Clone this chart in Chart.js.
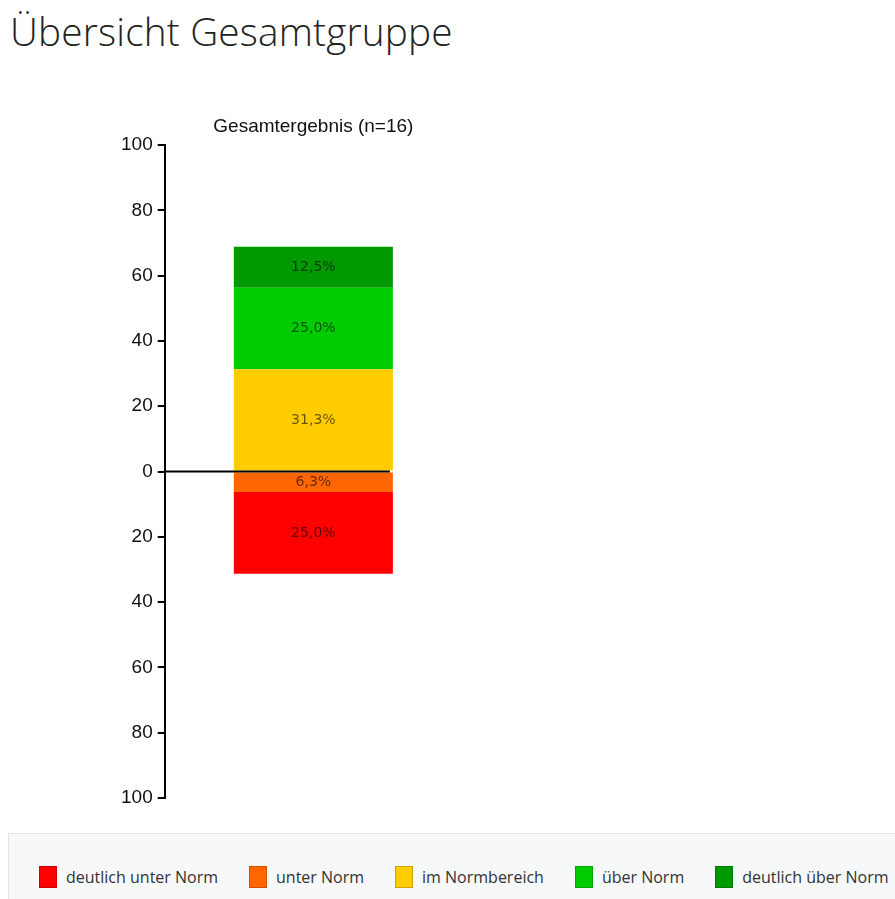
<!DOCTYPE html>
<html lang="de">
<head>
<meta charset="utf-8">
<title>Übersicht Gesamtgruppe</title>
<script src="https://cdn.jsdelivr.net/npm/chart.js@4.4.1/dist/chart.umd.min.js"></script>
<style>
  html, body { margin: 0; padding: 0; background: #fff; }
  body { width: 895px; height: 899px; position: relative; overflow: hidden; }
  h1 {
    position: absolute; left: 10px; top: 12px; margin: 0;
    font: 300 38.7px/39px 'Open Sans', sans-serif; color: #222; letter-spacing: 0.2px;
  }
  #chart-box { position: absolute; left: 0; top: 100px; width: 627px; height: 720px; }
  #legend {
    position: absolute; left: 8px; top: 833px; width: 900px; height: 80px;
    background: #f6f8fa; border: 1px solid #e2e5e8; box-sizing: border-box;
    display: flex; align-items: center; padding: 8px 0 0 30px;
    font: 16px 'Open Sans', sans-serif; color: #333;
  }
  .item { display: flex; align-items: center; margin-right: 31px; white-space: nowrap; }
  .swatch { width: 18px; height: 22px; margin-right: 9px; box-sizing: border-box; border: 1px solid rgba(0,0,0,0.2); }
</style>
</head>
<body>
<h1>Übersicht Gesamtgruppe</h1>
<div id="chart-box"><canvas id="chart"></canvas></div>
<div id="legend"></div>

<script>
/* ---------- Daten ---------- */
const categories = ['Gesamtergebnis'];
const sampleSize = 16;

// Legendenreihenfolge (von deutlich unter bis deutlich über Norm)
const levels = ['deutlich unter Norm', 'unter Norm', 'im Normbereich', 'über Norm', 'deutlich über Norm'];
const levelColors = ['#ff0000', '#ff6600', '#ffcc00', '#00cc00', '#009900'];
// Anteile in %, unter Norm negativ (unterhalb der Nulllinie)
const levelValues = [-25.0, -6.3, 31.3, 25.0, 12.5];

// Stapelreihenfolge von der Nulllinie nach außen
const stackOrder = [1, 0, 2, 3, 4];

const yMin = -100;
const yMax = 100;
const yStep = 20;

/* ---------- Legende ---------- */
const legendEl = document.getElementById('legend');
levels.forEach((name, i) => {
  const item = document.createElement('div');
  item.className = 'item';
  item.innerHTML = '<span class="swatch" style="background:' + levelColors[i] + '"></span>' + name;
  legendEl.appendChild(item);
});

/* ---------- Plugins ---------- */
const fmt = v => Math.abs(v).toFixed(1).replace('.', ',') + '%';

const segmentLabels = {
  id: 'segmentLabels',
  afterDatasetsDraw(chart) {
    const ctx = chart.ctx;
    ctx.save();
    ctx.font = "14px 'DejaVu Sans', sans-serif";
    ctx.fillStyle = 'rgba(0,0,0,0.6)';
    ctx.textAlign = 'center';
    ctx.textBaseline = 'middle';
    chart.data.datasets.forEach((ds, di) => {
      chart.getDatasetMeta(di).data.forEach((bar, j) => {
        const p = bar.getProps(['x', 'y', 'base'], true);
        ctx.fillText(fmt(ds.data[j]), p.x, (p.y + p.base) / 2);
      });
    });
    ctx.restore();
  }
};

const zeroLine = {
  id: 'zeroLine',
  afterDatasetsDraw(chart) {
    const y = chart.scales.y.getPixelForValue(0);
    const bar = chart.getDatasetMeta(0).data[0];
    const p = bar.getProps(['x', 'width'], true);
    const ctx = chart.ctx;
    ctx.save();
    ctx.strokeStyle = '#000';
    ctx.lineWidth = 2;
    ctx.beginPath();
    ctx.moveTo(chart.chartArea.left, y);
    ctx.lineTo(p.x + p.width / 2 - 3, y);
    ctx.stroke();
    ctx.restore();
  }
};

/* ---------- Diagramm ---------- */
new Chart(document.getElementById('chart'), {
  type: 'bar',
  data: {
    labels: categories,
    datasets: stackOrder.map(i => ({
      label: levels[i],
      data: [levelValues[i]],
      backgroundColor: levelColors[i],
      borderWidth: 0,
      barPercentage: 1,
      categoryPercentage: 0.535
    }))
  },
  options: {
    responsive: true,
    maintainAspectRatio: false,
    animation: false,
    layout: { padding: { left: 116, right: 165, top: 0, bottom: 22 } },
    plugins: {
      legend: { display: false },
      tooltip: { enabled: false },
      title: {
        display: true,
        text: categories[0] + ' (n=' + sampleSize + ')',
        fullSize: false,
        color: '#111',
        font: { family: "'Liberation Sans', Arial, sans-serif", size: 19, weight: 'normal' },
        padding: { top: 15, bottom: 7.2 }
      }
    },
    scales: {
      x: { stacked: true, display: false },
      y: {
        stacked: true,
        min: yMin,
        max: yMax,
        border: { display: true, color: '#000', width: 2 },
        grid: { drawOnChartArea: false, color: '#000', lineWidth: 2, tickLength: 7 },
        ticks: {
          stepSize: yStep,
          color: '#111',
          padding: 5,
          font: { family: "'Liberation Sans', Arial, sans-serif", size: 19 },
          callback: v => Math.abs(v)
        }
      }
    }
  },
  plugins: [zeroLine, segmentLabels]
});
</script>
</body>
</html>
